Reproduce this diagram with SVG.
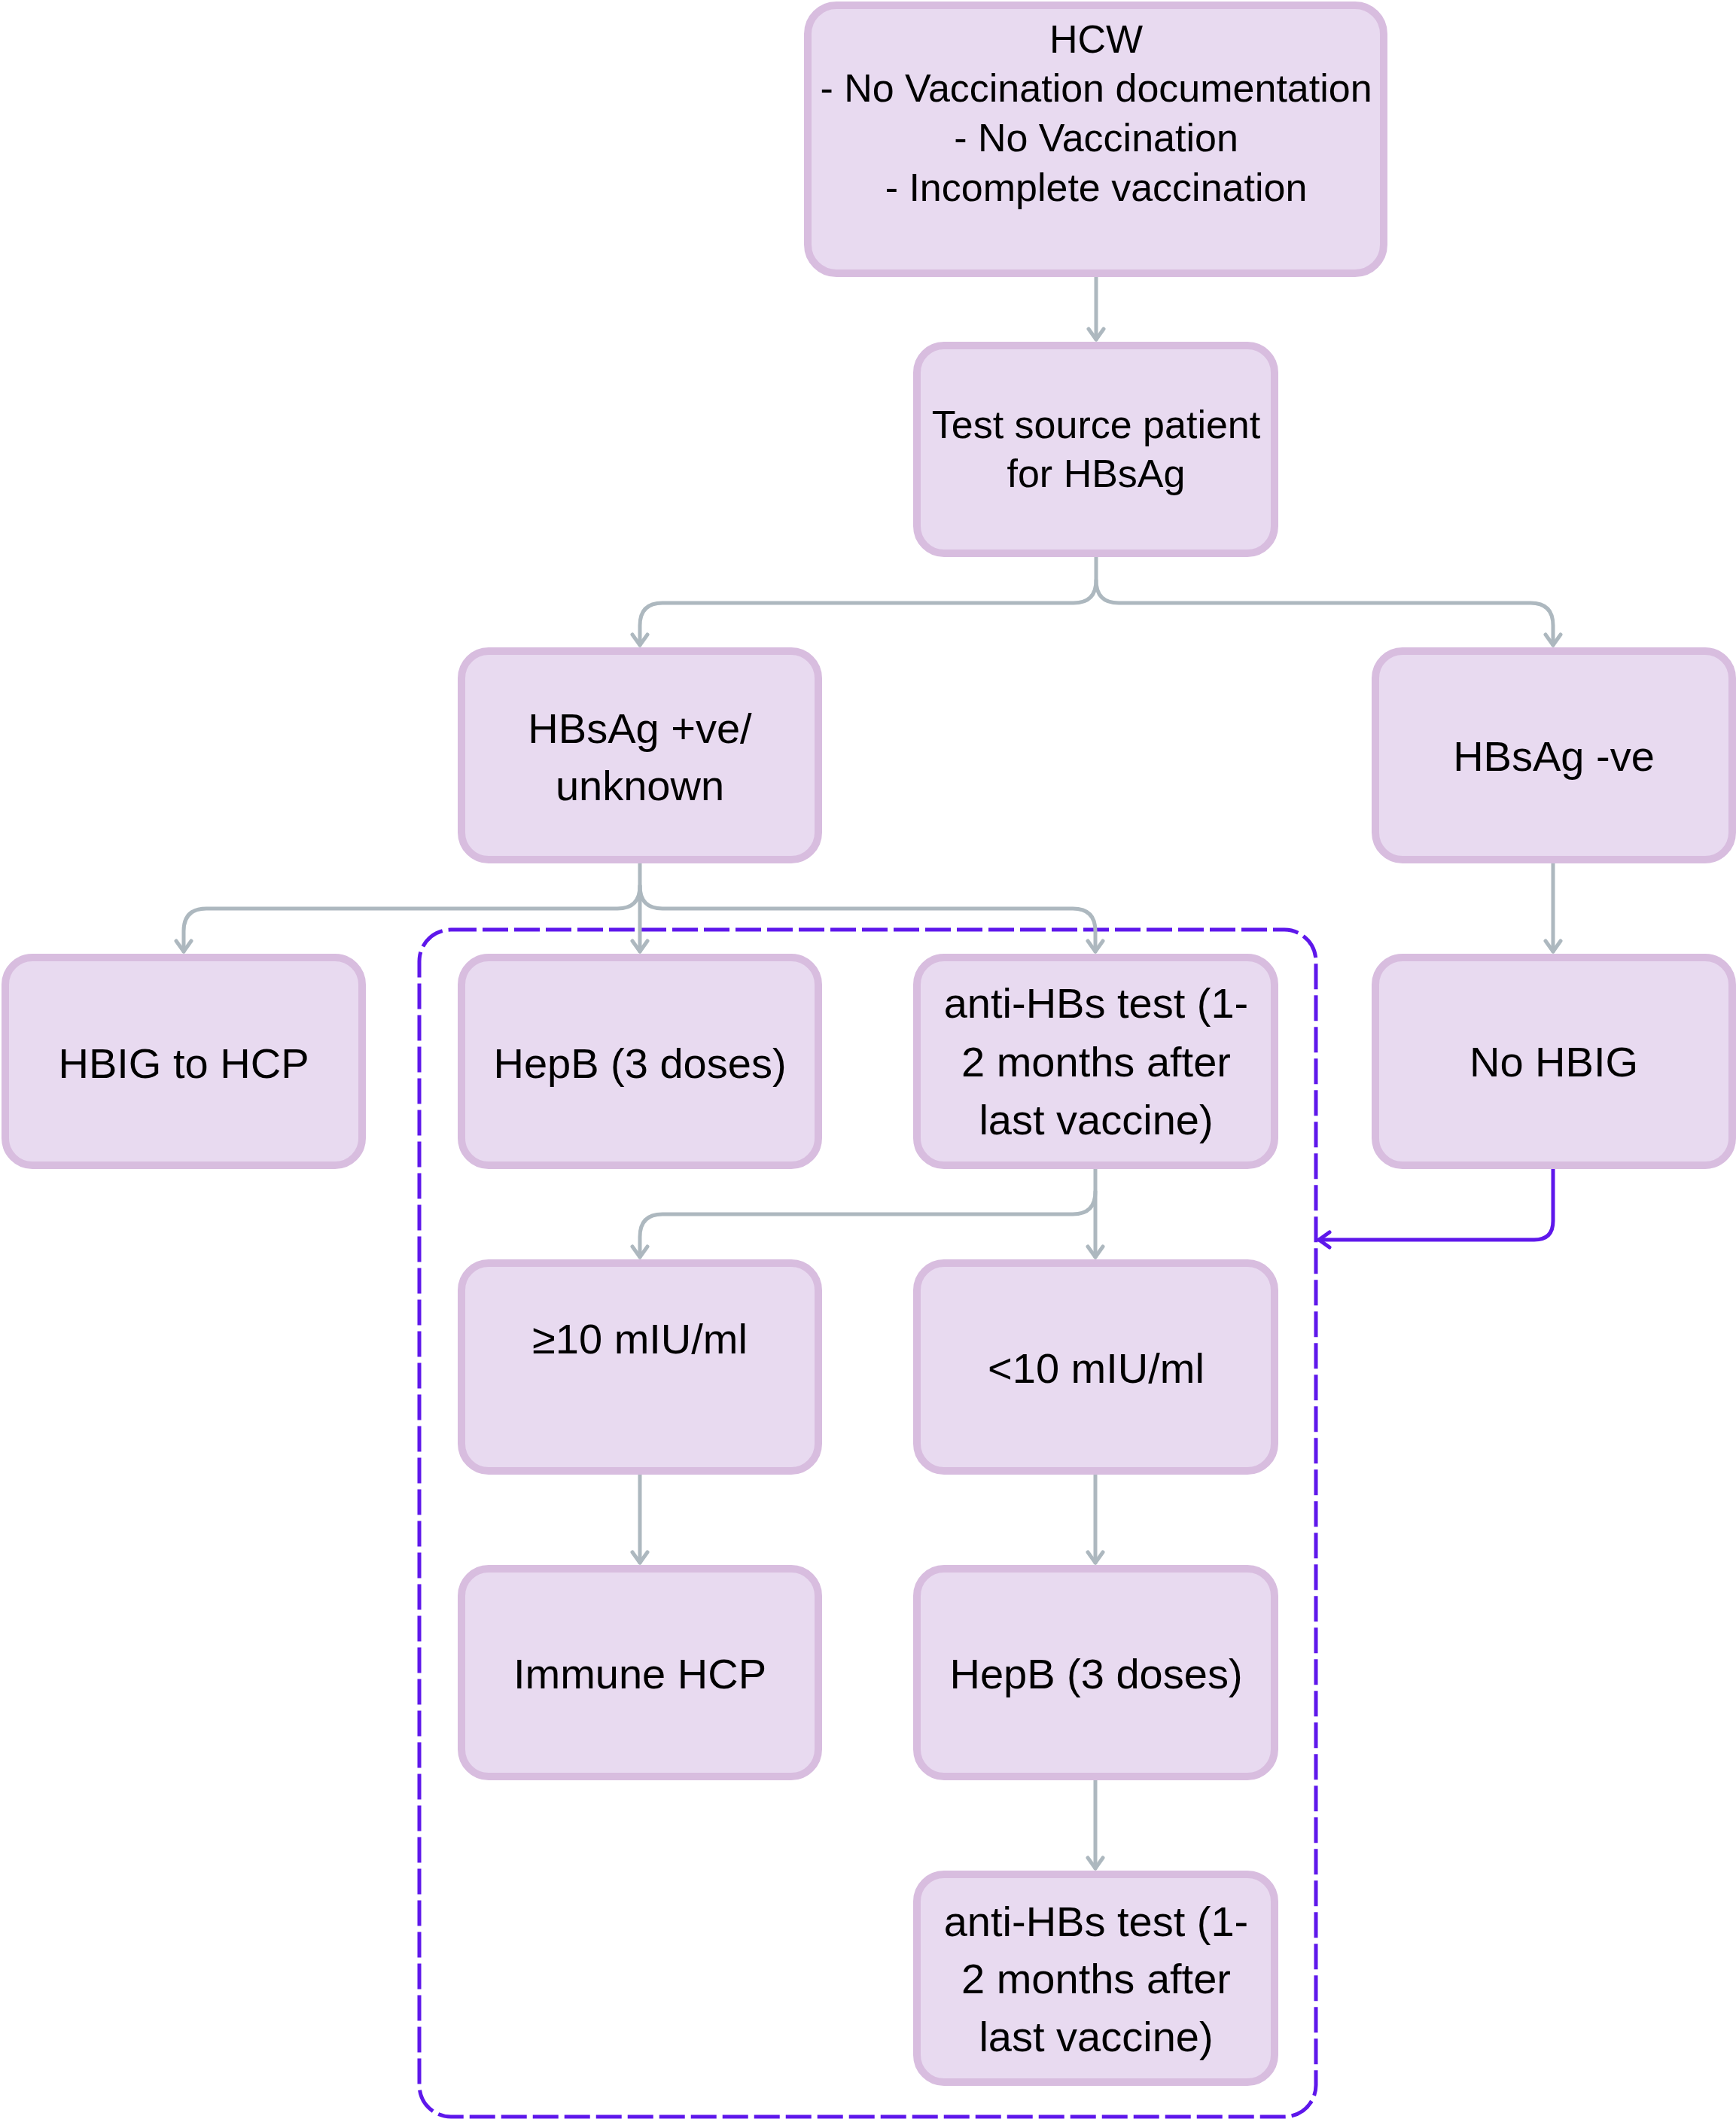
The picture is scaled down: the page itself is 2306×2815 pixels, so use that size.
<svg xmlns="http://www.w3.org/2000/svg" width="2306" height="2815" viewBox="0 0 2306 2815">
<defs>
<style>
.node rect{fill:#e8daf0;stroke:#d8bddf;stroke-width:10}
.node text{font-family:"Liberation Sans",Arial,sans-serif;fill:#000;text-anchor:middle}
.t52{font-size:52px}
.t56{font-size:56px}
.c{fill:none;stroke:#adb8bf;stroke-width:5;stroke-linecap:round;stroke-linejoin:round}
.p{fill:none;stroke:#5e17eb;stroke-width:5;stroke-linecap:round;stroke-linejoin:round}
.dash{fill:none;stroke:#5e17eb;stroke-width:5;stroke-dasharray:34 8}
</style>
<marker id="ag" markerUnits="userSpaceOnUse" markerWidth="40" markerHeight="40" viewBox="-20 -20 40 40" refX="0" refY="0" orient="auto" overflow="visible">
<path d="M-14,-10 L0,0 L-14,10" fill="none" stroke="#adb8bf" stroke-width="5" stroke-linecap="round" stroke-linejoin="round"/>
</marker>
<marker id="ap" markerUnits="userSpaceOnUse" markerWidth="40" markerHeight="40" viewBox="-20 -20 40 40" refX="0" refY="0" orient="auto" overflow="visible">
<path d="M-14,-10 L0,0 L-14,10" fill="none" stroke="#5e17eb" stroke-width="5" stroke-linecap="round" stroke-linejoin="round"/>
</marker>
</defs>
<rect width="2306" height="2815" fill="#fff"/>

<g id="group-box">
<rect class="dash" x="557" y="1235" width="1191" height="1577" rx="42" ry="42"/>
</g>

<g id="connectors">
<path class="c" d="M1456,368 V451" marker-end="url(#ag)"/>
<path class="c" d="M1456,740 V771 Q1456,801 1426,801 H880 Q850,801 850,831 V857" marker-end="url(#ag)"/>
<path class="c" d="M1456,771 Q1456,801 1486,801 H2033 Q2063,801 2063,831 V857" marker-end="url(#ag)"/>
<path class="c" d="M850,1147 V1264" marker-end="url(#ag)"/>
<path class="c" d="M850,1177 Q850,1207 820,1207 H274 Q244,1207 244,1237 V1264" marker-end="url(#ag)"/>
<path class="c" d="M850,1177 Q850,1207 880,1207 H1425 Q1455,1207 1455,1237 V1264" marker-end="url(#ag)"/>
<path class="c" d="M2063,1147 V1264" marker-end="url(#ag)"/>
<path class="c" d="M1455,1553 V1670" marker-end="url(#ag)"/>
<path class="c" d="M1455,1583 Q1455,1613 1425,1613 H880 Q850,1613 850,1643 V1670" marker-end="url(#ag)"/>
<path class="c" d="M850,1959 V2076" marker-end="url(#ag)"/>
<path class="c" d="M1455,1959 V2076" marker-end="url(#ag)"/>
<path class="c" d="M1455,2365 V2482" marker-end="url(#ag)"/>
<path class="p" d="M2063,1553 V1622 Q2063,1647 2038,1647 H1752" marker-end="url(#ap)"/>
</g>

<g id="n-hcw" class="node">
<rect x="1073" y="7" width="765" height="356" rx="38"/>
<text class="t52" x="1456" y="70">HCW</text>
<text class="t52" x="1456" y="135">- No Vaccination documentation</text>
<text class="t52" x="1456" y="201">- No Vaccination</text>
<text class="t52" x="1456" y="267">- Incomplete vaccination</text>
</g>

<g id="n-test" class="node">
<rect x="1218" y="459" width="475" height="276" rx="36"/>
<text class="t52" x="1456" y="582">Test source patient</text>
<text class="t52" x="1456" y="647">for HBsAg</text>
</g>

<g id="n-pos" class="node">
<rect x="613" y="865" width="474" height="277" rx="36"/>
<text class="t56" x="850" y="987">HBsAg +ve/</text>
<text class="t56" x="850" y="1063">unknown</text>
</g>

<g id="n-neg" class="node">
<rect x="1827" y="865" width="474" height="277" rx="36"/>
<text class="t56" x="2064" y="1024">HBsAg -ve</text>
</g>

<g id="n-hbig" class="node">
<rect x="7" y="1272" width="474" height="276" rx="36"/>
<text class="t56" x="244" y="1432">HBIG to HCP</text>
</g>

<g id="n-hepb1" class="node">
<rect x="613" y="1272" width="474" height="276" rx="36"/>
<text class="t56" x="850" y="1432">HepB (3 doses)</text>
</g>

<g id="n-anti1" class="node">
<rect x="1218" y="1272" width="475" height="276" rx="36"/>
<text class="t56" x="1456" y="1352">anti-HBs test (1-</text>
<text class="t56" x="1456" y="1430">2 months after</text>
<text class="t56" x="1456" y="1507">last vaccine)</text>
</g>

<g id="n-nohbig" class="node">
<rect x="1827" y="1272" width="474" height="276" rx="36"/>
<text class="t56" x="2064" y="1430">No HBIG</text>
</g>

<g id="n-ge10" class="node">
<rect x="613" y="1678" width="474" height="276" rx="36"/>
<text class="t56" x="850" y="1798">≥10 mIU/ml</text>
</g>

<g id="n-lt10" class="node">
<rect x="1218" y="1678" width="475" height="276" rx="36"/>
<text class="t56" x="1456" y="1837">&lt;10 mIU/ml</text>
</g>

<g id="n-immune" class="node">
<rect x="613" y="2084" width="474" height="276" rx="36"/>
<text class="t56" x="850" y="2243">Immune HCP</text>
</g>

<g id="n-hepb2" class="node">
<rect x="1218" y="2084" width="475" height="276" rx="36"/>
<text class="t56" x="1456" y="2243">HepB (3 doses)</text>
</g>

<g id="n-anti2" class="node">
<rect x="1218" y="2490" width="475" height="276" rx="36"/>
<text class="t56" x="1456" y="2572">anti-HBs test (1-</text>
<text class="t56" x="1456" y="2648">2 months after</text>
<text class="t56" x="1456" y="2725">last vaccine)</text>
</g>
</svg>
